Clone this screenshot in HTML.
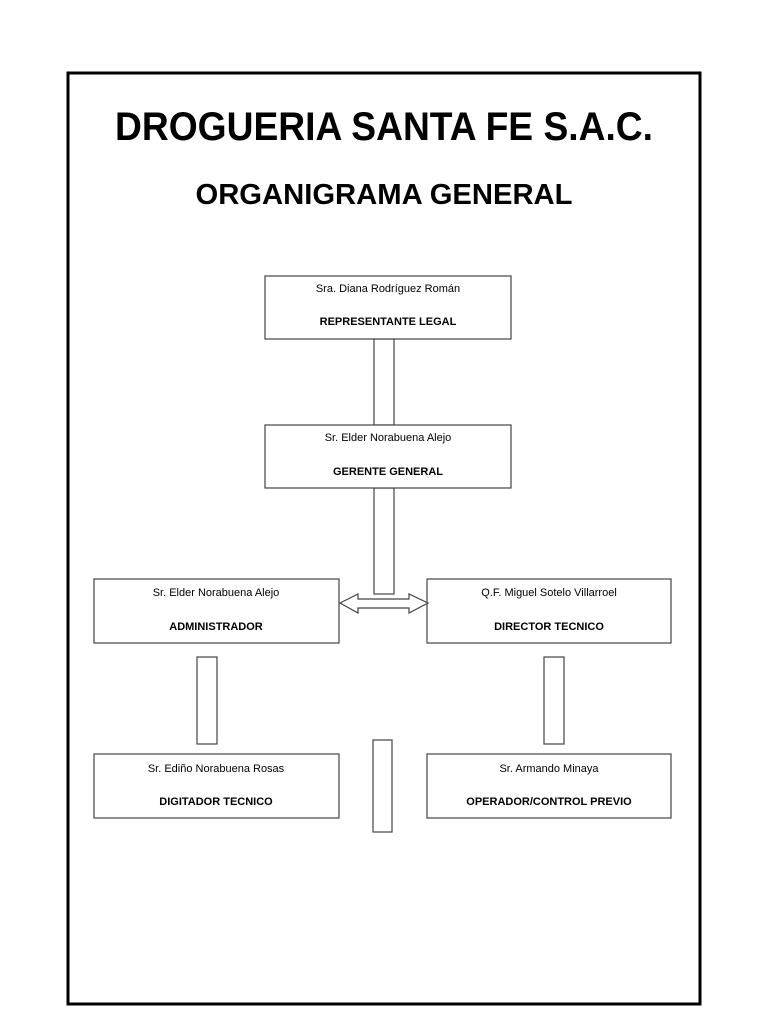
<!DOCTYPE html>
<html><head><meta charset="utf-8"><style>
html,body{margin:0;padding:0;background:#fff;}
svg{display:block;}
text{font-family:"Liberation Sans",sans-serif;fill:#000;}
</style></head><body>
<svg width="768" height="1024" viewBox="0 0 768 1024" xmlns="http://www.w3.org/2000/svg">
<rect x="68" y="73" width="632" height="931" fill="none" stroke="#000" stroke-width="3"/>
<text x="384" y="140" font-size="40" font-weight="bold" text-anchor="middle" textLength="538" lengthAdjust="spacingAndGlyphs">DROGUERIA SANTA FE S.A.C.</text>
<text x="384" y="204" font-size="29" font-weight="bold" text-anchor="middle" textLength="377" lengthAdjust="spacingAndGlyphs">ORGANIGRAMA GENERAL</text>
<g fill="#fff" stroke="#444" stroke-width="1.2">
<rect x="374" y="339" width="20" height="86"/>
<rect x="374" y="488" width="20" height="106"/>
<rect x="197" y="657" width="20" height="87"/>
<rect x="544" y="657" width="20" height="87"/>
<rect x="373" y="740" width="19" height="92"/>
<rect x="265" y="276" width="246" height="63"/>
<rect x="265" y="425" width="246" height="63"/>
<rect x="94" y="579" width="245" height="64"/>
<rect x="427" y="579" width="244" height="64"/>
<rect x="94" y="754" width="245" height="64"/>
<rect x="427" y="754" width="244" height="64"/>
<polygon points="340,603 358,594 358,599 409,599 409,594 428,603 409,613 409,608 358,608 358,613"/>
</g>
<g font-size="11" text-anchor="middle">
<text x="388" y="292">Sra. Diana Rodríguez Román</text>
<text x="388" y="325" font-weight="bold">REPRESENTANTE  LEGAL</text>
<text x="388" y="441">Sr. Elder Norabuena Alejo</text>
<text x="388" y="475" font-weight="bold">GERENTE  GENERAL</text>
<text x="216" y="596">Sr. Elder Norabuena Alejo</text>
<text x="216" y="630" font-weight="bold">ADMINISTRADOR</text>
<text x="549" y="596">Q.F. Miguel Sotelo Villarroel</text>
<text x="549" y="630" font-weight="bold">DIRECTOR TECNICO</text>
<text x="216" y="772">Sr. Ediño Norabuena Rosas</text>
<text x="216" y="805" font-weight="bold">DIGITADOR TECNICO</text>
<text x="549" y="772">Sr. Armando Minaya</text>
<text x="549" y="805" font-weight="bold">OPERADOR/CONTROL PREVIO</text>
</g>
</svg>
</body></html>
